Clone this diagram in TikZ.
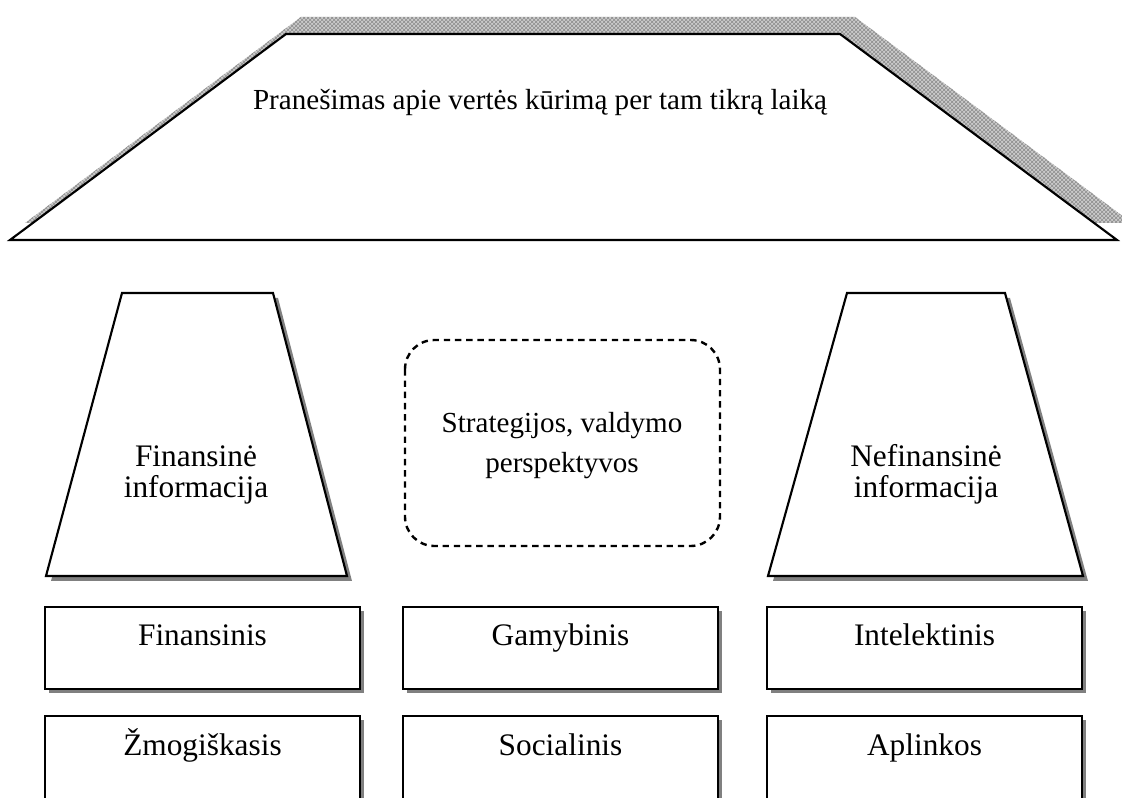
\documentclass[tikz,border=0pt]{standalone}
\usepackage{fontspec}
\setmainfont{Liberation Serif}
\usetikzlibrary{patterns}

\tikzset{
  outline/.style={draw=black, line width=1.6pt, fill=white},
  softshadow/.style={fill=black!50},
  bigtext/.style={anchor=base, font=\fontsize{23.5}{28}\selectfont},
  smalltext/.style={anchor=base, font=\fontsize{21.8}{26}\selectfont},
}

\begin{document}
\begin{tikzpicture}[x=0.75pt, y=-0.75pt]
\useasboundingbox (0,0) rectangle (1122,798);
\clip (0,0) rectangle (1122,798);
% Stogas
\begin{scope}
\fill[gray!40] (301,17) -- (855,17) -- (1132,223) -- (25,223) -- cycle;
\fill[pattern=crosshatch, pattern color=gray!90] (301,17) -- (855,17) -- (1132,223) -- (25,223) -- cycle;
\draw[outline] (286,34) -- (840,34) -- (1117,240) -- (10,240) -- cycle;
\node[smalltext] (pranesimas) at (540,110) {Pranešimas apie vertės kūrimą per tam tikrą laiką};
\end{scope}
% Finansine informacija
\begin{scope}
\fill[softshadow] (127,298) -- (278,298) -- (352,581) -- (51,581) -- cycle;
\draw[outline] (122,293) -- (273,293) -- (347,576) -- (46,576) -- cycle;
\node[bigtext] (fin1) at (196,467) {Finansinė};
\node[bigtext] (fin2) at (196,498) {informacija};
\end{scope}
% Strategijos
\begin{scope}
\draw[line width=1.8pt, dash pattern=on 4.8pt off 3.6pt, rounded corners=22pt] (405,340) rectangle (720,546);
\node[smalltext] (strat1) at (562,433) {Strategijos, valdymo};
\node[smalltext] (strat2) at (562,473) {perspektyvos};
\end{scope}
% Nefinansine informacija
\begin{scope}
\fill[softshadow] (852,298) -- (1010,298) -- (1088,581) -- (773,581) -- cycle;
\draw[outline] (847,293) -- (1005,293) -- (1083,576) -- (768,576) -- cycle;
\node[bigtext] (nefin1) at (926,467) {Nefinansinė};
\node[bigtext] (nefin2) at (926,498) {informacija};
\end{scope}
% Kapitalai (apatine eile nukirpta)
\foreach \x/\y/\h/\name/\txt in {45/607/82/finansinis/Finansinis, 403/607/82/gamybinis/Gamybinis, 767/607/82/intelektinis/Intelektinis, 45/716/110/zmogiskasis/Žmogiškasis, 403/716/110/socialinis/Socialinis, 767/716/110/aplinkos/Aplinkos}{
  \fill[softshadow] (\x+4,\y+4) rectangle (\x+319,\y+\h+4);
  \draw[outline] (\x,\y) rectangle (\x+315,\y+\h);
  \node[bigtext] (\name) at (\x+157.5,\y+39) {\txt};
}
\end{tikzpicture}
\end{document}
